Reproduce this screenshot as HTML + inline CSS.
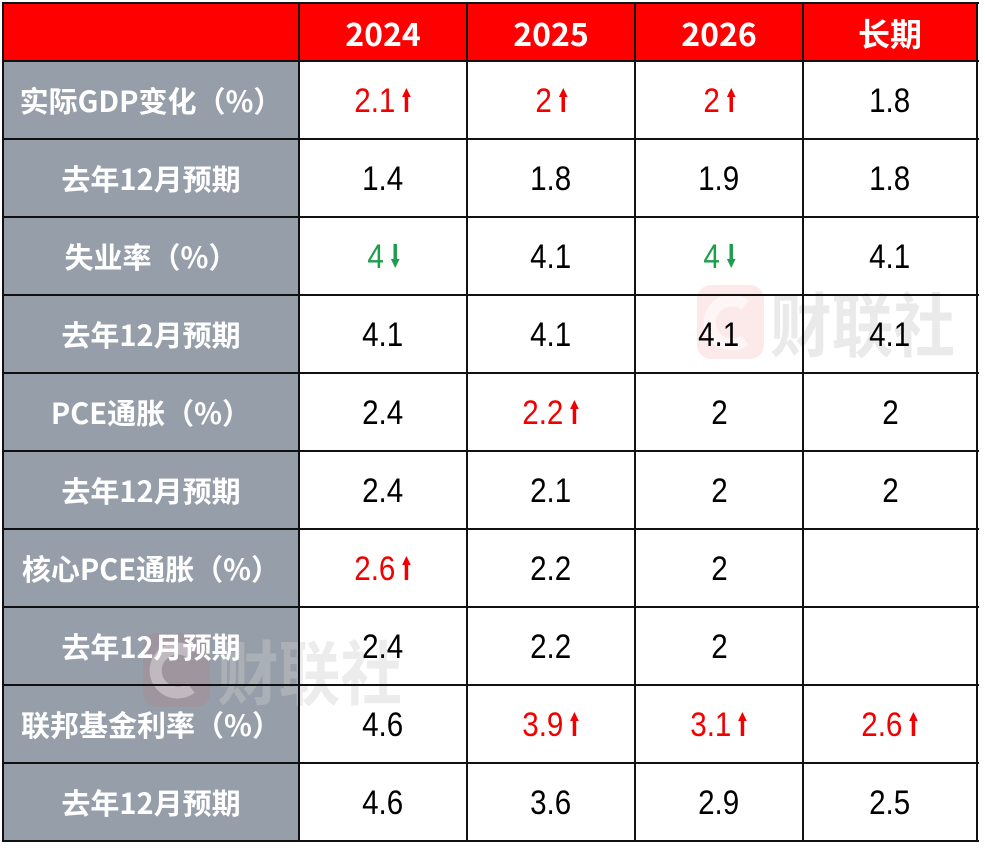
<!DOCTYPE html>
<html>
<head>
<meta charset="utf-8">
<style>
  html,body{margin:0;padding:0;background:#fff;}
  body{width:985px;height:850px;position:relative;overflow:hidden;}
  .bg{position:absolute;}
  .cell{position:absolute;display:flex;align-items:center;justify-content:center;z-index:3;}
  .hd{font-family:"WenQuanYi Zen Hei","Noto Sans CJK SC",sans-serif;color:#fff;font-size:32px;font-weight:bold;line-height:1;}
  .lb{font-family:"WenQuanYi Zen Hei","Noto Sans CJK SC",sans-serif;color:#fff;font-size:29px;font-weight:bold;line-height:1;white-space:nowrap;}
  .v{display:inline-block;font-family:"Liberation Sans",Arial,sans-serif;font-size:34px;line-height:1;color:#000;transform:scaleX(0.87);transform-origin:center;white-space:nowrap;}
  .r{color:#f20000;}
  .g{color:#1e9e4c;}
  .v svg{margin-left:8px;vertical-align:baseline;}
  .hl{position:absolute;height:2px;background:#111;z-index:4;}
  .vl{position:absolute;width:2px;background:#111;z-index:4;}
  .wm{position:absolute;left:0;top:0;z-index:2;}
</style>
</head>
<body>
<!-- backgrounds -->
<div class="bg" style="left:3px;top:3px;width:974px;height:58px;background:#ff0000;"></div>
<div class="bg" style="left:3px;top:61px;width:296px;height:780px;background:#959ea9;"></div>

<!-- watermarks -->
<svg class="wm" width="985" height="850" viewBox="0 0 985 850">
  <g>
    <rect x="697" y="285" width="67" height="74" rx="14" fill="rgb(235,90,90)" fill-opacity="0.13"/>
    <path d="M 745 305 A 22 22 0 1 0 745 340" fill="none" stroke="#fff" stroke-opacity="0.55" stroke-width="12"/>
    <text x="770" y="351" font-family="WenQuanYi Zen Hei, Noto Sans CJK SC, sans-serif" font-weight="bold" font-size="70" textLength="185" lengthAdjust="spacingAndGlyphs" fill="rgb(200,200,200)" fill-opacity="0.38">财联社</text>
  </g>
  <g>
    <rect x="143" y="633" width="67" height="74" rx="14" fill="rgb(235,90,90)" fill-opacity="0.13"/>
    <path d="M 191 653 A 22 22 0 1 0 191 688" fill="none" stroke="#fff" stroke-opacity="0.35" stroke-width="12"/>
    <text x="217" y="699" font-family="WenQuanYi Zen Hei, Noto Sans CJK SC, sans-serif" font-weight="bold" font-size="70" textLength="185" lengthAdjust="spacingAndGlyphs" fill="rgb(205,205,205)" fill-opacity="0.38">财联社</text>
  </g>
</svg>

<!-- header -->
<div class="cell hd" style="left:299px;top:3px;width:168px;height:60px;">2024</div>
<div class="cell hd" style="left:467px;top:3px;width:168px;height:60px;">2025</div>
<div class="cell hd" style="left:635px;top:3px;width:168px;height:60px;">2026</div>
<div class="cell hd" style="left:803px;top:3px;width:174px;height:60px;">长期</div>

<!-- labels -->
<div class="cell lb" style="left:3px;top:61px;width:296px;height:78px;">实际GDP变化（%）</div>
<div class="cell lb" style="left:3px;top:139px;width:296px;height:78px;">去年12月预期</div>
<div class="cell lb" style="left:3px;top:217px;width:296px;height:78px;">失业率（%）</div>
<div class="cell lb" style="left:3px;top:295px;width:296px;height:78px;">去年12月预期</div>
<div class="cell lb" style="left:3px;top:373px;width:296px;height:78px;">PCE通胀（%）</div>
<div class="cell lb" style="left:3px;top:451px;width:296px;height:78px;">去年12月预期</div>
<div class="cell lb" style="left:3px;top:529px;width:296px;height:78px;">核心PCE通胀（%）</div>
<div class="cell lb" style="left:3px;top:607px;width:296px;height:78px;">去年12月预期</div>
<div class="cell lb" style="left:3px;top:685px;width:296px;height:78px;">联邦基金利率（%）</div>
<div class="cell lb" style="left:3px;top:763px;width:296px;height:78px;">去年12月预期</div>

<!-- row 1 -->
<div class="cell" style="left:299px;top:61px;width:168px;height:80px;"><span class="v r">2.1<svg width="10" height="24" viewBox="0 0 10 24"><polygon points="0,9 5,0 10,9" fill="#f20000"/><rect x="3" y="8" width="4" height="16" fill="#f20000"/></svg></span></div>
<div class="cell" style="left:467px;top:61px;width:168px;height:80px;"><span class="v r">2<svg width="10" height="24" viewBox="0 0 10 24"><polygon points="0,9 5,0 10,9" fill="#f20000"/><rect x="3" y="8" width="4" height="16" fill="#f20000"/></svg></span></div>
<div class="cell" style="left:635px;top:61px;width:168px;height:80px;"><span class="v r">2<svg width="10" height="24" viewBox="0 0 10 24"><polygon points="0,9 5,0 10,9" fill="#f20000"/><rect x="3" y="8" width="4" height="16" fill="#f20000"/></svg></span></div>
<div class="cell" style="left:803px;top:61px;width:174px;height:80px;"><span class="v">1.8</span></div>

<!-- row 2 -->
<div class="cell" style="left:299px;top:139px;width:168px;height:80px;"><span class="v">1.4</span></div>
<div class="cell" style="left:467px;top:139px;width:168px;height:80px;"><span class="v">1.8</span></div>
<div class="cell" style="left:635px;top:139px;width:168px;height:80px;"><span class="v">1.9</span></div>
<div class="cell" style="left:803px;top:139px;width:174px;height:80px;"><span class="v">1.8</span></div>

<!-- row 3 -->
<div class="cell" style="left:299px;top:217px;width:168px;height:80px;"><span class="v g">4<svg width="10" height="24" viewBox="0 0 10 24"><polygon points="0,15 5,24 10,15" fill="#1e9e4c"/><rect x="3" y="0" width="4" height="16" fill="#1e9e4c"/></svg></span></div>
<div class="cell" style="left:467px;top:217px;width:168px;height:80px;"><span class="v">4.1</span></div>
<div class="cell" style="left:635px;top:217px;width:168px;height:80px;"><span class="v g">4<svg width="10" height="24" viewBox="0 0 10 24"><polygon points="0,15 5,24 10,15" fill="#1e9e4c"/><rect x="3" y="0" width="4" height="16" fill="#1e9e4c"/></svg></span></div>
<div class="cell" style="left:803px;top:217px;width:174px;height:80px;"><span class="v">4.1</span></div>

<!-- row 4 -->
<div class="cell" style="left:299px;top:295px;width:168px;height:80px;"><span class="v">4.1</span></div>
<div class="cell" style="left:467px;top:295px;width:168px;height:80px;"><span class="v">4.1</span></div>
<div class="cell" style="left:635px;top:295px;width:168px;height:80px;"><span class="v">4.1</span></div>
<div class="cell" style="left:803px;top:295px;width:174px;height:80px;"><span class="v">4.1</span></div>

<!-- row 5 -->
<div class="cell" style="left:299px;top:373px;width:168px;height:80px;"><span class="v">2.4</span></div>
<div class="cell" style="left:467px;top:373px;width:168px;height:80px;"><span class="v r">2.2<svg width="10" height="24" viewBox="0 0 10 24"><polygon points="0,9 5,0 10,9" fill="#f20000"/><rect x="3" y="8" width="4" height="16" fill="#f20000"/></svg></span></div>
<div class="cell" style="left:635px;top:373px;width:168px;height:80px;"><span class="v">2</span></div>
<div class="cell" style="left:803px;top:373px;width:174px;height:80px;"><span class="v">2</span></div>

<!-- row 6 -->
<div class="cell" style="left:299px;top:451px;width:168px;height:80px;"><span class="v">2.4</span></div>
<div class="cell" style="left:467px;top:451px;width:168px;height:80px;"><span class="v">2.1</span></div>
<div class="cell" style="left:635px;top:451px;width:168px;height:80px;"><span class="v">2</span></div>
<div class="cell" style="left:803px;top:451px;width:174px;height:80px;"><span class="v">2</span></div>

<!-- row 7 -->
<div class="cell" style="left:299px;top:529px;width:168px;height:80px;"><span class="v r">2.6<svg width="10" height="24" viewBox="0 0 10 24"><polygon points="0,9 5,0 10,9" fill="#f20000"/><rect x="3" y="8" width="4" height="16" fill="#f20000"/></svg></span></div>
<div class="cell" style="left:467px;top:529px;width:168px;height:80px;"><span class="v">2.2</span></div>
<div class="cell" style="left:635px;top:529px;width:168px;height:80px;"><span class="v">2</span></div>

<!-- row 8 -->
<div class="cell" style="left:299px;top:607px;width:168px;height:80px;"><span class="v">2.4</span></div>
<div class="cell" style="left:467px;top:607px;width:168px;height:80px;"><span class="v">2.2</span></div>
<div class="cell" style="left:635px;top:607px;width:168px;height:80px;"><span class="v">2</span></div>

<!-- row 9 -->
<div class="cell" style="left:299px;top:685px;width:168px;height:80px;"><span class="v">4.6</span></div>
<div class="cell" style="left:467px;top:685px;width:168px;height:80px;"><span class="v r">3.9<svg width="10" height="24" viewBox="0 0 10 24"><polygon points="0,9 5,0 10,9" fill="#f20000"/><rect x="3" y="8" width="4" height="16" fill="#f20000"/></svg></span></div>
<div class="cell" style="left:635px;top:685px;width:168px;height:80px;"><span class="v r">3.1<svg width="10" height="24" viewBox="0 0 10 24"><polygon points="0,9 5,0 10,9" fill="#f20000"/><rect x="3" y="8" width="4" height="16" fill="#f20000"/></svg></span></div>
<div class="cell" style="left:803px;top:685px;width:174px;height:80px;"><span class="v r">2.6<svg width="10" height="24" viewBox="0 0 10 24"><polygon points="0,9 5,0 10,9" fill="#f20000"/><rect x="3" y="8" width="4" height="16" fill="#f20000"/></svg></span></div>

<!-- row 10 -->
<div class="cell" style="left:299px;top:763px;width:168px;height:80px;"><span class="v">4.6</span></div>
<div class="cell" style="left:467px;top:763px;width:168px;height:80px;"><span class="v">3.6</span></div>
<div class="cell" style="left:635px;top:763px;width:168px;height:80px;"><span class="v">2.9</span></div>
<div class="cell" style="left:803px;top:763px;width:174px;height:80px;"><span class="v">2.5</span></div>

<!-- grid lines: horizontal -->
<div class="hl" style="left:3px;top:2px;width:976px;"></div>
<div class="hl" style="left:3px;top:60px;width:976px;"></div>
<div class="hl" style="left:3px;top:138px;width:976px;"></div>
<div class="hl" style="left:3px;top:216px;width:976px;"></div>
<div class="hl" style="left:3px;top:294px;width:976px;"></div>
<div class="hl" style="left:3px;top:372px;width:976px;"></div>
<div class="hl" style="left:3px;top:450px;width:976px;"></div>
<div class="hl" style="left:3px;top:528px;width:976px;"></div>
<div class="hl" style="left:3px;top:606px;width:976px;"></div>
<div class="hl" style="left:3px;top:684px;width:976px;"></div>
<div class="hl" style="left:3px;top:762px;width:976px;"></div>
<div class="hl" style="left:3px;top:840px;width:976px;"></div>
<!-- vertical -->
<div class="vl" style="left:2px;top:2px;height:840px;"></div>
<div class="vl" style="left:298px;top:2px;height:840px;"></div>
<div class="vl" style="left:466px;top:2px;height:840px;"></div>
<div class="vl" style="left:634px;top:2px;height:840px;"></div>
<div class="vl" style="left:802px;top:2px;height:840px;"></div>
<div class="vl" style="left:976px;top:2px;height:840px;"></div>
</body>
</html>
